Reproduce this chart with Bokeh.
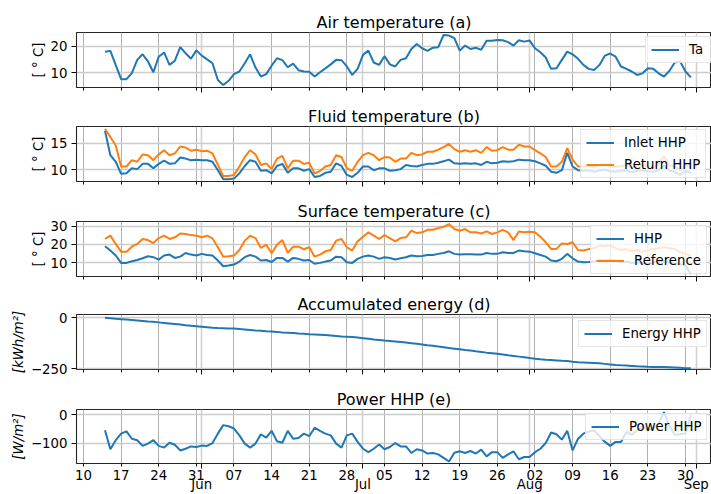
import pandas as pd
from bokeh.plotting import figure
from bokeh.layouts import column
from bokeh.models import Range1d, FixedTicker, DatetimeTickFormatter, DatetimeAxis, ColumnDataSource
from bokeh.embed import file_html
from bokeh.resources import INLINE

# ---------------- data ----------------
dates = pd.date_range("2019-05-14", "2019-08-31", freq="D")
week_ticks = pd.date_range("2019-05-10", "2019-08-30", freq="7D")
month_ticks = pd.to_datetime(["2019-06-01", "2019-07-01", "2019-08-01", "2019-09-01"])

air_ta = [17.9, 18.2, 12.8, 7.5, 7.5, 9.8, 14.8, 16.9, 14.2, 10.1,
          16.0, 17.6, 12.9, 14.5, 19.6, 17.3, 15.2, 18.4, 16.4, 15.0,
          13.5, 7.2, 5.3, 6.9, 9.4, 10.4, 13.5, 16.9, 11.9, 8.5,
          9.4, 12.6, 15.4, 14.7, 12.0, 13.4, 10.9, 10.4, 10.3, 8.5,
          10.1, 11.6, 13.1, 14.8, 14.7, 12.3, 9.1, 11.4, 16.7, 18.3,
          13.8, 12.9, 16.2, 13.1, 12.3, 14.8, 15.4, 18.9, 20.8, 19.2,
          18.2, 19.4, 19.6, 24.2, 24.0, 23.0, 18.3, 20.2, 18.9, 19.4,
          18.6, 22.0, 22.0, 22.3, 22.2, 21.5, 20.2, 22.2, 21.7, 22.1,
          19.2, 17.7, 15.7, 11.4, 11.6, 14.8, 17.9, 16.9, 15.2, 12.9,
          11.4, 11.0, 12.9, 16.4, 17.2, 16.0, 12.3, 11.4, 10.4, 9.1,
          9.7, 11.6, 11.4, 9.7, 8.5, 10.6, 13.8, 14.2, 10.4, 8.2]

fluid_inlet = [17.4, 12.75, 11.5, 9.2, 9.3, 10.25, 10.1, 11.1, 11.1, 10.25,
               11.1, 11.7, 11.1, 11.2, 12.3, 12.1, 11.8, 11.9, 11.8, 11.8,
               11.5, 9.9, 8.2, 8.2, 8.3, 9.3, 10.7, 11.8, 11.5, 9.8,
               9.9, 9.3, 10.7, 11.1, 9.4, 10.25, 10.25, 9.8, 10.1, 8.6,
               8.8, 9.4, 9.6, 11.2, 10.7, 9.0, 8.6, 9.4, 10.6, 10.6,
               9.9, 10.25, 10.25, 9.8, 9.9, 10.1, 10.9, 10.7, 10.6, 10.9,
               11.1, 11.1, 11.3, 11.6, 11.9, 11.2, 11.1, 11.2, 11.1, 11.2,
               10.9, 11.5, 11.2, 11.3, 11.6, 11.5, 11.6, 11.9, 11.8, 11.8,
               11.6, 11.2, 10.75, 9.6, 9.4, 9.9, 13.2, 10.6, 9.9, 9.8,
               9.9, 9.6, 9.9, 10.0, 9.7, 9.6, 9.8, 9.9, 9.5, 9.8,
               9.9, 9.7, 9.6, 9.9, 10.8, 9.8, 9.6, 9.0, 9.8, 9.4]

fluid_return = [17.75, 16.2, 14.6, 10.6, 10.6, 11.8, 11.5, 12.9, 12.75, 11.8,
                12.9, 13.7, 12.75, 13.1, 14.4, 14.2, 13.6, 13.8, 13.5, 13.6,
                13.1, 10.9, 8.8, 8.8, 9.0, 10.6, 12.4, 13.7, 12.9, 10.9,
                11.2, 10.1, 12.1, 12.6, 10.25, 11.7, 11.7, 11.1, 11.3, 9.3,
                9.75, 10.6, 10.9, 12.75, 12.4, 10.25, 9.8, 11.5, 12.75, 13.2,
                12.75, 11.8, 12.4, 12.3, 11.5, 12.1, 12.1, 13.2, 12.75, 12.9,
                13.4, 13.4, 13.8, 14.3, 14.9, 13.9, 13.4, 13.7, 13.4, 13.7,
                13.2, 14.3, 13.6, 13.7, 14.3, 13.8, 13.8, 14.75, 14.4, 14.4,
                13.7, 13.1, 12.4, 10.6, 10.6, 11.5, 14.1, 11.9, 10.6, 10.6,
                10.8, 10.5, 10.9, 11.0, 10.6, 10.5, 10.7, 10.9, 10.4, 10.8,
                10.9, 10.6, 10.5, 11.0, 12.6, 10.8, 10.6, 9.9, 10.7, 10.5]

surface_hhp = [19.0, 16.7, 14.0, 10.0, 10.0, 10.9, 11.6, 12.5, 13.6, 13.1,
               11.8, 14.0, 14.5, 12.7, 13.4, 15.4, 14.5, 14.0, 14.9, 14.3,
               14.0, 11.3, 8.2, 8.6, 9.1, 10.7, 13.1, 14.3, 13.4, 11.3,
               11.6, 10.5, 12.7, 12.7, 10.7, 12.7, 12.2, 11.3, 11.6, 9.5,
               10.0, 10.7, 11.3, 13.4, 13.1, 10.4, 10.0, 12.2, 13.4, 14.0,
               13.4, 12.2, 13.1, 12.7, 11.8, 12.5, 13.1, 14.0, 13.6, 13.8,
               14.3, 14.3, 14.9, 15.4, 16.3, 14.9, 14.5, 14.7, 14.7, 14.5,
               14.5, 15.4, 14.9, 14.9, 15.8, 15.4, 15.4, 16.7, 16.3, 16.1,
               15.2, 14.3, 13.4, 11.3, 10.9, 12.2, 14.9, 12.5, 10.7, 10.4,
               10.5, 10.7, 11.5, 11.2, 11.6, 11.0, 10.4, 10.7, 10.0, 10.3,
               10.0, 9.6, 10.2, 10.5, 10.8, 10.2, 9.6, 9.2, 8.5, 4.0]

surface_ref = [23.0, 24.8, 20.3, 16.1, 16.1, 18.8, 20.3, 23.0, 22.4, 20.8,
               23.5, 24.8, 23.0, 23.9, 26.0, 25.7, 25.1, 24.8, 23.9, 24.8,
               23.3, 18.5, 13.4, 13.6, 14.0, 17.0, 22.1, 24.8, 23.5, 18.1,
               19.9, 15.2, 19.9, 22.4, 15.4, 18.8, 18.8, 17.4, 18.5, 13.4,
               14.5, 16.3, 17.0, 22.1, 23.0, 18.5, 16.7, 21.7, 24.2, 26.6,
               24.8, 23.0, 25.1, 23.5, 21.7, 23.5, 23.9, 27.5, 26.2, 26.6,
               28.0, 28.0, 28.9, 29.6, 31.1, 28.4, 27.5, 28.4, 26.6, 26.6,
               26.0, 27.1, 25.7, 26.6, 28.0, 26.6, 22.4, 27.1, 26.6, 26.9,
               26.6, 24.2, 21.2, 17.6, 17.6, 20.6, 20.3, 21.2, 17.0, 16.7,
               17.5, 18.0, 19.5, 19.0, 19.5, 18.0, 17.0, 17.5, 16.5, 17.0,
               16.0, 17.0, 17.5, 18.0, 18.5, 18.0, 17.5, 16.0, 15.0, 14.0]

energy_hhp = [0, -2.5, -5, -7, -9, -11, -13, -15.5, -18, -20,
              -22.5, -25, -27.5, -30, -33, -36, -38.5, -41, -43.5, -46,
              -48.5, -50, -51, -52, -53, -54.5, -57, -59.5, -62, -63.5,
              -65.5, -67, -69, -71.5, -73, -75, -77, -78.5, -80.5, -81.5,
              -83, -84.5, -86.5, -89, -91.5, -93, -94.5, -97, -100, -103,
              -106, -108.5, -111.5, -114, -116.5, -119, -121.5, -124.5, -127.5, -130.5,
              -134, -137, -140.5, -144, -148, -151, -154, -157.5, -160.5, -164,
              -167, -170.5, -173.5, -176.5, -180, -183.5, -186.5, -190, -193.5, -197,
              -200, -203, -205.5, -207, -208.5, -210.5, -212, -215, -217, -218.5,
              -220, -221.5, -223, -225.5, -228, -230.5, -232.5, -234, -235.5, -237,
              -238, -239.5, -240.5, -241, -241, -242, -243.5, -245, -246.5, -246.5]

power_hhp = [-54, -121, -89, -66, -58, -84, -89, -109, -101, -89,
             -109, -115, -98, -105, -125, -119, -111, -113, -108, -109,
             -99, -66, -36, -40, -48, -72, -101, -115, -101, -68,
             -80, -56, -93, -98, -56, -84, -81, -66, -75, -45,
             -56, -66, -72, -101, -115, -72, -66, -95, -119, -131,
             -119, -104, -121, -113, -99, -111, -111, -134, -121, -125,
             -136, -134, -139, -151, -164, -133, -128, -134, -127, -136,
             -122, -146, -131, -131, -151, -139, -128, -156, -148, -148,
             -131, -119, -99, -62, -68, -87, -56, -125, -84, -66,
             -58, -55, -75, -95, -109, -95, -95, -60, -70, -55,
             -40, -55, -45, -30, 10, -40, -70, -68, -65, 0]

src = ColumnDataSource(dict(date=dates, ta=air_ta, inlet=fluid_inlet, ret=fluid_return,
                            shhp=surface_hhp, sref=surface_ref, energy=energy_hhp, power=power_hhp))

# ---------------- styling ----------------
BLUE = "#1f77b4"
ORANGE = "#ff7f0e"
FONT = "DejaVu Sans"
FS = "13.3px"
x0 = pd.Timestamp("2019-05-10") - pd.Timedelta(days=1.30)
x1 = pd.Timestamp("2019-05-10") + pd.Timedelta(days=116.84)
week_ms = [t.value / 1e6 for t in week_ticks]
month_ms = [t.value / 1e6 for t in month_ticks]


def dt_fmt(fmt):
    return DatetimeTickFormatter(microseconds=fmt, milliseconds=fmt, seconds=fmt, minsec=fmt,
                                 minutes=fmt, hourmin=fmt, hours=fmt, days=fmt, months=fmt,
                                 years=fmt, strip_leading_zeros=False)


def panel(title, h, top, bottom, yr, yticks, ylabel, italic=False, show_x=False, overrides=None):
    p = figure(width=711, height=h, x_axis_type="datetime",
               x_range=Range1d(x0, x1), y_range=Range1d(*yr),
               output_backend="svg", toolbar_location=None, title=title,
               min_border_left=76, min_border_right=0,
               min_border_top=top, min_border_bottom=bottom)
    p.background_fill_color = "white"
    p.border_fill_color = "white"
    p.outline_line_color = "#262626"
    p.outline_line_width = 1.1
    t = p.title
    t.text_font = FONT
    t.text_font_size = "16px"
    t.text_font_style = "normal"
    t.text_color = "black"
    t.align = "center"
    t.standoff = 2
    t.offset = 4

    xt = FixedTicker(ticks=week_ms, minor_ticks=month_ms)
    xa = p.xaxis[0]
    xa.ticker = xt
    xa.formatter = dt_fmt("%d")
    xa.axis_line_color = None
    xa.major_tick_in = 0
    xa.major_tick_out = 3
    xa.minor_tick_in = 0
    xa.minor_tick_out = 5
    xa.major_tick_line_color = "black"
    xa.minor_tick_line_color = "black"
    xa.major_label_text_font = FONT
    xa.major_label_text_font_size = FS
    if show_x:
        xa.major_label_text_color = "black"
        xa.major_label_standoff = 1
    else:
        # shared x axis: ticks only, labels are not drawn
        xa.major_label_text_color = None
        xa.major_label_standoff = -16
    p.xgrid.ticker = xt
    p.xgrid.grid_line_color = "#b0b0b0"
    p.xgrid.grid_line_width = 1
    p.xgrid.minor_grid_line_color = "#d2d2d2"
    p.xgrid.minor_grid_line_width = 1.6

    yt = FixedTicker(ticks=yticks)
    ya = p.yaxis[0]
    ya.ticker = yt
    ya.axis_line_color = None
    ya.major_tick_in = 0
    ya.major_tick_out = 5
    ya.major_tick_line_color = "black"
    ya.minor_tick_line_color = None
    ya.major_label_text_font = FONT
    ya.major_label_text_font_size = FS
    ya.major_label_text_color = "black"
    ya.major_label_standoff = 4
    if overrides:
        ya.major_label_overrides = overrides
    ya.axis_label = ylabel
    ya.axis_label_text_font = FONT
    ya.axis_label_text_font_size = FS
    ya.axis_label_text_color = "black"
    ya.axis_label_text_font_style = "italic" if italic else "normal"
    ya.axis_label_standoff = 2
    p.ygrid.ticker = yt
    p.ygrid.grid_line_color = "#cccccc"
    p.ygrid.grid_line_width = 1.3
    return p


def style_legend(p, loc):
    lg = p.legend[0]
    lg.location = loc
    lg.label_text_font = FONT
    lg.label_text_font_size = FS
    lg.label_text_color = "black"
    lg.glyph_width = 28
    lg.glyph_height = 15
    lg.label_height = 15
    lg.label_standoff = 10
    lg.spacing = 7
    lg.padding = 5
    lg.margin = 0
    lg.border_line_color = "#cccccc"
    lg.border_line_width = 1
    lg.background_fill_color = "white"
    lg.background_fill_alpha = 0.8


LW = 2

p1 = panel("Air temperature (a)", 100, 32, 13, (4.35, 25.15), [10, 20], "[ ° C]")
p1.line("date", "ta", source=src, color=BLUE, line_width=LW, legend_label="Ta")
style_legend(p1, (569, 24))

p2 = panel("Fluid temperature (b)", 95, 26, 14, (7.75, 18.2), [10, 15], "[ ° C]")
p2.line("date", "inlet", source=src, color=BLUE, line_width=LW, legend_label="Inlet HHP")
p2.line("date", "ret", source=src, color=ORANGE, line_width=LW, legend_label="Return HHP")
style_legend(p2, (504, 3))

p3 = panel("Surface temperature (c)", 95, 26, 14, (2.6, 32.5), [10, 20, 30], "[ ° C]")
p3.line("date", "shhp", source=src, color=BLUE, line_width=LW, legend_label="HHP")
p3.line("date", "sref", source=src, color=ORANGE, line_width=LW, legend_label="Reference")
style_legend(p3, (514, 2))

p4 = panel("Accumulated energy (d)", 94, 24, 15, (-253, 16), [-250, 0], "[kWh/m²]",
           italic=True, overrides={-250: "−250"})
p4.line("date", "energy", source=src, color=BLUE, line_width=LW, legend_label="Energy HHP")
style_legend(p4, (502, 22))

p5 = panel("Power HHP (e)", 110, 25, 31, (-171, 19), [-100, 0], "[W/m²]",
           italic=True, show_x=True, overrides={-100: "−100"})
p5.line("date", "power", source=src, color=BLUE, line_width=LW, legend_label="Power HHP")
style_legend(p5, (509, 23))

ma = DatetimeAxis(ticker=FixedTicker(ticks=month_ms, minor_ticks=[]), formatter=dt_fmt("%b"))
ma.axis_line_color = None
ma.major_tick_in = 0
ma.major_tick_out = 0
ma.major_tick_line_color = None
ma.minor_tick_line_color = None
ma.major_label_text_font = FONT
ma.major_label_text_font_size = FS
ma.major_label_text_color = "black"
ma.major_label_standoff = -6
p5.add_layout(ma, "below")

layout = column(p1, p2, p3, p4, p5, spacing=0)
open("out.html", "w").write(file_html(layout, INLINE))
